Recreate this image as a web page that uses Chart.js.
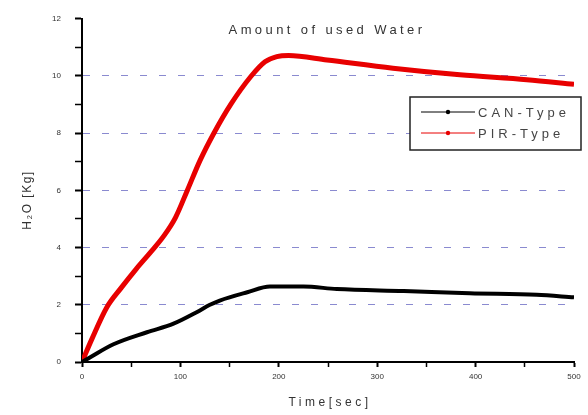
<!DOCTYPE html>
<html>
<head>
<meta charset="utf-8">
<script src="https://cdn.jsdelivr.net/npm/chart.js@4"></script>
<style>
  html, body { margin: 0; padding: 0; background: #fff; }
  #wrap { width: 588px; height: 415px; }
</style>
</head>
<body>
<div id="wrap"><canvas id="c" width="588" height="415"></canvas></div>
<script>
// ---- data ----
const pirTime  = [0, 10, 25, 40, 55, 70, 83, 95, 107, 120, 134, 151, 172, 186, 198, 210, 249, 316, 384, 452, 500];
const pirWater = [0, 0.8, 1.9, 2.6, 3.25, 3.85, 4.4, 5.05, 6.0, 7.05, 8.0, 9.0, 10.0, 10.5, 10.68, 10.72, 10.56, 10.27, 10.04, 9.87, 9.71];
const canTime  = [0, 8, 32, 66, 93, 117, 130, 140, 168, 191, 225, 259, 327, 394, 462, 500];
const canWater = [0, 0.16, 0.62, 1.04, 1.34, 1.75, 2.0, 2.15, 2.44, 2.64, 2.64, 2.55, 2.48, 2.40, 2.35, 2.26];
const seriesNames = ['CAN-Type', 'PIR-Type'];
const chartTitle = 'Amount of used Water';
const xTitle = 'Time[sec]';
const yTitle = 'H\u2082O [Kg]';
const xTickLabels = [0, 100, 200, 300, 400, 500];
const yTickLabels = [0, 2, 4, 6, 8, 10, 12];
const gridValues = [2, 4, 6, 8, 10];

const toPts = (xs, ys) => xs.map((x, i) => ({ x: x, y: ys[i] }));
const FONT = '"Liberation Sans", Arial, sans-serif';

const textPlugin = {
  id: 'texts',
  afterDraw(chart) {
    const ctx = chart.ctx;
    ctx.save();
    ctx.fillStyle = '#333';
    ctx.textBaseline = 'middle';
    // title
    ctx.font = '13px ' + FONT;
    ctx.letterSpacing = '3.4px';
    ctx.textAlign = 'center';
    ctx.fillText(chartTitle, 327, 30);
    // x title
    ctx.font = '12px ' + FONT;
    ctx.letterSpacing = '3.5px';
    ctx.fillText(xTitle, 330, 403);
    // y title
    ctx.save();
    ctx.translate(28, 200);
    ctx.rotate(-Math.PI / 2);
    ctx.letterSpacing = '1.5px';
    ctx.fillText(yTitle, 0, 0);
    ctx.restore();
    // legend
    const bx = 410, by = 97, bw = 171, bh = 53;
    ctx.letterSpacing = '0px';
    ctx.fillStyle = '#fff';
    ctx.fillRect(bx, by, bw, bh);
    ctx.strokeStyle = '#222';
    ctx.lineWidth = 1.5;
    ctx.strokeRect(bx, by, bw, bh);
    const rows = [
      { name: seriesNames[0], color: chart.data.datasets[0].borderColor, y: 112 },
      { name: seriesNames[1], color: chart.data.datasets[1].borderColor, y: 133 }
    ];
    rows.forEach(r => {
      ctx.strokeStyle = r.color;
      ctx.lineWidth = 1;
      ctx.beginPath();
      ctx.moveTo(421, r.y);
      ctx.lineTo(475, r.y);
      ctx.stroke();
      ctx.fillStyle = r.color;
      ctx.beginPath();
      ctx.arc(448, r.y, 2.2, 0, Math.PI * 2);
      ctx.fill();
      ctx.fillStyle = '#444';
      ctx.font = '13px ' + FONT;
      ctx.letterSpacing = '4px';
      ctx.textAlign = 'left';
      ctx.fillText(r.name, 478, r.y + 1);
    });
    ctx.restore();
  }
};

new Chart(document.getElementById('c'), {
  type: 'line',
  data: {
    datasets: [
      {
        label: seriesNames[0],
        data: toPts(canTime, canWater),
        borderColor: '#000000',
        borderWidth: 4,
        pointRadius: 0,
        cubicInterpolationMode: 'monotone',
        fill: false
      },
      {
        label: seriesNames[1],
        data: toPts(pirTime, pirWater),
        borderColor: '#e80000',
        borderWidth: 5,
        pointRadius: 0,
        cubicInterpolationMode: 'monotone',
        fill: false
      }
    ]
  },
  options: {
    responsive: false,
    animation: false,
    devicePixelRatio: 1,
    layout: { padding: { top: 17, right: 14, left: 0, bottom: 0 } },
    plugins: { legend: { display: false }, title: { display: false }, tooltip: { enabled: false } },
    scales: {
      x: {
        type: 'linear',
        min: 0, max: 500,
        afterFit(s) { s.height = 53; },
        ticks: {
          stepSize: 50,
          autoSkip: false,
          maxRotation: 0,
          padding: 5,
          color: '#333',
          font: { size: 8, family: FONT },
          callback: v => (xTickLabels.includes(v) ? String(v) : '')
        },
        grid: {
          drawOnChartArea: false,
          drawTicks: true,
          tickLength: 5,
          tickColor: '#000',
          tickWidth: c => (c.tick && xTickLabels.includes(c.tick.value) ? 2 : 1.5)
        },
        border: { display: true, color: '#000', width: 2 }
      },
      y: {
        min: 0, max: 12,
        afterFit(s) { s.width = 82; },
        ticks: {
          stepSize: 1,
          autoSkip: false,
          padding: 14,
          color: '#333',
          font: { size: 8, family: FONT },
          callback: v => (yTickLabels.includes(v) ? String(v) : '')
        },
        grid: {
          drawTicks: true,
          tickLength: 7,
          tickColor: '#000',
          tickWidth: c => (c.tick && yTickLabels.includes(c.tick.value) ? 2 : 1.5),
          lineWidth: 1,
          color: c => (c.tick && gridValues.includes(c.tick.value) ? '#8a8ad0' : 'rgba(0,0,0,0)')
        },
        border: { display: true, color: '#000', width: 2, dash: [7, 12] }
      }
    }
  },
  plugins: [textPlugin]
});
</script>
</body>
</html>
